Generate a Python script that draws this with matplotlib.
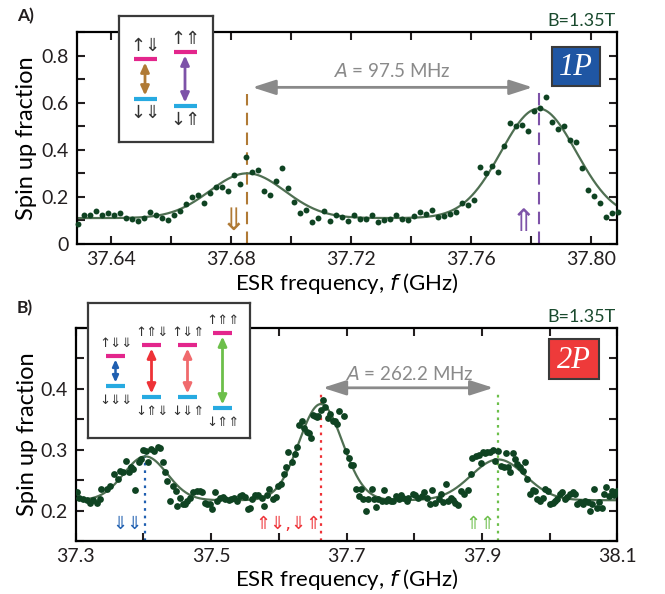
import numpy as np
import matplotlib
matplotlib.use('Agg')
import matplotlib.pyplot as plt
from matplotlib.patches import Rectangle
from matplotlib.ticker import MultipleLocator

plt.rcParams['font.family'] = ['Lato', 'DejaVu Sans']
plt.rcParams['text.color'] = '#231f20'
plt.rcParams['axes.linewidth'] = 1.6
plt.rcParams['xtick.labelsize'] = 14
plt.rcParams['ytick.labelsize'] = 14

# ---------------- data, panel A (1P) ----------------
f_a_start, f_a_step = 37.629, 0.002   # sweep grid (GHz)
spin_a = [0.086, 0.123, 0.123, 0.138, 0.125, 0.130, 0.122, 0.130, 0.110, 0.106,
          0.099, 0.110, 0.135, 0.123, 0.110, 0.100, 0.123, 0.138, 0.171, 0.200,
          0.209, 0.176, 0.216, 0.244, 0.241, 0.224, 0.292, 0.255, 0.370, 0.304,
          0.313, 0.227, 0.209, 0.268, 0.324, 0.238, 0.178, 0.132, 0.146, 0.092,
          0.109, 0.141, 0.096, 0.123, 0.115, 0.096, 0.122, 0.106, 0.106, 0.122,
          0.093, 0.102, 0.106, 0.122, 0.105, 0.103, 0.117, 0.136, 0.129, 0.143,
          0.113, 0.120, 0.126, 0.136, 0.173, 0.165, 0.186, 0.327, 0.301, 0.330,
          0.307, 0.414, 0.512, 0.500, 0.505, 0.479, 0.565, 0.578, 0.625, 0.519,
          0.487, 0.500, 0.443, 0.433, 0.323, 0.228, 0.204, 0.175, 0.116, 0.133,
          0.135]
# gaussian fit
fit_a_base = 0.11
fit_a_centers = [37.6855, 37.7825]
fit_a_amps = [0.19, 0.465]
fit_a_widths = [0.0125, 0.0125]
lines_a = [37.6855, 37.7825]

# ---------------- data, panel B (2P) ----------------
f_b = [37.302, 37.305, 37.311, 37.316, 37.321, 37.326, 37.331, 37.336, 37.338, 37.346,
       37.351, 37.356, 37.363, 37.365, 37.370, 37.374, 37.378, 37.382, 37.385, 37.388,
       37.393, 37.396, 37.400, 37.404, 37.407, 37.411, 37.416, 37.421, 37.425, 37.429,
       37.432, 37.435, 37.439, 37.444, 37.448, 37.450, 37.454, 37.458, 37.461, 37.465,
       37.469, 37.474, 37.479, 37.483, 37.486, 37.491, 37.494, 37.498, 37.502, 37.506,
       37.509, 37.513, 37.517, 37.521, 37.526, 37.530, 37.534, 37.538, 37.542, 37.545,
       37.550, 37.554, 37.558, 37.561, 37.565, 37.570, 37.575, 37.578, 37.582, 37.586,
       37.591, 37.596, 37.599, 37.603, 37.607, 37.611, 37.614,
       37.619, 37.624, 37.627, 37.630, 37.634, 37.637, 37.641, 37.645, 37.647, 37.650,
       37.654, 37.656, 37.658, 37.663, 37.666, 37.668, 37.672, 37.676, 37.680, 37.683,
       37.686, 37.689, 37.696, 37.699, 37.703, 37.706, 37.710, 37.714, 37.718, 37.721,
       37.725, 37.729, 37.732, 37.737, 37.740, 37.744, 37.747, 37.752, 37.755, 37.758,
       37.762, 37.765, 37.769, 37.773, 37.777, 37.780, 37.784, 37.789, 37.791, 37.798,
       37.801, 37.806, 37.811, 37.815, 37.819, 37.823, 37.827, 37.831, 37.836,
       37.839, 37.843, 37.847, 37.850, 37.854, 37.857, 37.860, 37.865, 37.869, 37.873,
       37.879, 37.884, 37.886, 37.891, 37.895, 37.898, 37.901, 37.905, 37.908, 37.912,
       37.916, 37.919, 37.924, 37.928, 37.932, 37.936, 37.939, 37.942, 37.946, 37.949,
       37.952, 37.956, 37.960, 37.964, 37.967, 37.971, 37.975, 37.979, 37.982, 37.986,
       37.990, 37.993, 37.997, 38.001, 38.005, 38.008, 38.011, 38.015, 38.019, 38.023,
       38.026, 38.030, 38.034, 38.038, 38.041, 38.045, 38.049, 38.052, 38.056, 38.059,
       38.062, 38.066, 38.070, 38.073, 38.077, 38.080, 38.084, 38.088, 38.092, 38.095,
       38.099]
spin_b = [0.230, 0.220, 0.219, 0.217, 0.212, 0.217, 0.212, 0.219, 0.235, 0.235,
          0.241, 0.260, 0.252, 0.265, 0.263, 0.282, 0.263, 0.271, 0.268, 0.234,
          0.279, 0.285, 0.300, 0.298, 0.279, 0.301, 0.298, 0.304, 0.302, 0.279,
          0.263, 0.249, 0.216, 0.241, 0.232, 0.207, 0.220, 0.210, 0.210, 0.216,
          0.220, 0.230, 0.232, 0.232, 0.230, 0.213, 0.210, 0.210, 0.202, 0.230,
          0.216, 0.221, 0.223, 0.219, 0.217, 0.219, 0.221, 0.216, 0.224, 0.225,
          0.223, 0.202, 0.205, 0.219, 0.225, 0.225, 0.221, 0.207, 0.225, 0.236,
          0.219, 0.223, 0.241, 0.243, 0.260, 0.271, 0.296,
          0.280, 0.293, 0.304, 0.340, 0.348, 0.335, 0.329, 0.327, 0.320, 0.357,
          0.355, 0.353, 0.356, 0.366, 0.381, 0.370, 0.352, 0.359, 0.348, 0.348,
          0.342, 0.364, 0.356, 0.298, 0.287, 0.275, 0.275, 0.236, 0.224, 0.235,
          0.219, 0.199, 0.219, 0.236, 0.219, 0.206, 0.219, 0.216, 0.234, 0.216,
          0.219, 0.216, 0.216, 0.224, 0.219, 0.225, 0.220, 0.216, 0.221, 0.228,
          0.225, 0.220, 0.224, 0.230, 0.221, 0.210, 0.234, 0.213, 0.219,
          0.228, 0.214, 0.243, 0.216, 0.220, 0.217, 0.213, 0.209, 0.232, 0.228,
          0.234, 0.260, 0.287, 0.289, 0.291, 0.278, 0.296, 0.294, 0.296, 0.296,
          0.300, 0.282, 0.298, 0.274, 0.271, 0.294, 0.272, 0.264, 0.294, 0.285,
          0.276, 0.271, 0.265, 0.279, 0.252, 0.227, 0.234, 0.232, 0.219, 0.216,
          0.221, 0.235, 0.232, 0.210, 0.213, 0.216, 0.219, 0.227, 0.231, 0.219,
          0.223, 0.227, 0.231, 0.227, 0.210, 0.214, 0.210, 0.216, 0.214, 0.199,
          0.210, 0.236, 0.205, 0.214, 0.205, 0.227, 0.238, 0.224, 0.232, 0.225,
          0.232]
fit_b_base = 0.217
fit_b_centers = [37.403, 37.662, 37.924]
fit_b_amps = [0.072, 0.158, 0.067]
fit_b_widths = [0.032, 0.032, 0.040]
lines_b = [37.4025, 37.6618, 37.924]

xticks_a = [37.64, 37.68, 37.72, 37.76, 37.80]
yticks_a = [0, 0.2, 0.4, 0.6, 0.8]
xticks_b = [37.3, 37.5, 37.7, 37.9, 38.1]
yticks_b = [0.2, 0.3, 0.4]

# ---------------- styles ----------------
dot_c = '#0f4322'
fit_c = '#4f6f52'
gray = '#8a8a8a'
brown = '#b07a35'
purple = '#7d52a8'
magenta = '#e3268c'
cyan = '#27aae1'
blue_c = '#1f5fb0'
red_c = '#ee3237'
red_l = '#f06a6d'
green_c = '#6cbf4a'
dark_green = '#1a4a2e'
arrow_font = 'DejaVu Sans'

W, H = 665, 594


def px_box(x0, y0, x1, y1):
    return [x0/W, 1-y1/H, (x1-x0)/W, (y1-y0)/H]


def px_pt(x, y):
    return x/W, 1-y/H


def fit_curve(f, base, centers, amps, widths):
    y = np.full_like(f, base)
    for c, a, w in zip(centers, amps, widths):
        y += a*np.exp(-(f-c)**2/(2*w**2))
    return y


def style_axes(ax, x0, y0, x1, y1, xlab_y):
    ax.tick_params(which='both', direction='in', length=6, width=1.5,
                   top=True, right=True, pad=6, colors='#231f20')
    ax.tick_params(axis='x', pad=5)
    ax.set_xlabel(r'ESR frequency, $\it{f}$ (GHz)', fontsize=16, va='center')
    ax.set_ylabel('Spin up fraction', fontsize=17, va='center')
    ax.xaxis.set_label_coords(0.5, (y1-xlab_y)/(y1-y0))
    ax.yaxis.set_label_coords((27-x0)/(x1-x0), 0.5)


def dbl_arrow(ax, x, y0, y1, color, lw=2.0, ms=5):
    ax.annotate('', xy=(x, y0), xytext=(x, y1),
                arrowprops=dict(arrowstyle='<|-|>,head_length=1.1,head_width=0.5',
                                color=color, lw=lw, mutation_scale=ms,
                                shrinkA=0, shrinkB=0))


def spin_text(ax, x, y, s, fs, color):
    ax.text(x, y, s, fontsize=fs, family=arrow_font, color=color,
            ha='center', va='center')


fig = plt.figure(figsize=(W/100, H/100), dpi=100)

# ================= panel A =================
axA = fig.add_axes(px_box(77.3, 32, 617.3, 244))
f_a = np.round(f_a_start + f_a_step*np.arange(len(spin_a)), 3)
xlim_a = (37.6289, 37.8087)
ff = np.linspace(*xlim_a, 600)
axA.plot(ff, fit_curve(ff, fit_a_base, fit_a_centers, fit_a_amps, fit_a_widths),
         color=fit_c, lw=1.6, zorder=2)
axA.scatter(f_a, spin_a, s=18, color=dot_c, lw=0, zorder=3, clip_on=False)
axA.plot([lines_a[0]]*2, [0, 0.637], ls=(0, (6, 3.5)), color=brown, lw=1.5, zorder=1)
axA.plot([lines_a[1]]*2, [0, 0.649], ls=(0, (6, 3.5)), color=purple, lw=1.5, zorder=1)
axA.annotate('', xy=(37.6872, 0.665), xytext=(37.7805, 0.665),
             arrowprops=dict(arrowstyle='<|-|>,head_length=1.4,head_width=0.45',
                             color=gray, lw=2, mutation_scale=10, shrinkA=0, shrinkB=0))
axA.text(37.7338, 0.735, r'$\it{A}$ = 97.5 MHz', color=gray, fontsize=13.5,
         ha='center', va='center')
spin_text(axA, 37.6808, 0.095, '⇓', 22, brown)
spin_text(axA, 37.7774, 0.09, '⇑', 22, purple)
axA.set_xlim(xlim_a)
axA.set_ylim(0, 0.9)
axA.set_xticks(xticks_a)
axA.set_xticklabels([f'{v:.2f}' for v in xticks_a])
axA.set_yticks(yticks_a)
axA.set_yticklabels(['0', '0.2', '0.4', '0.6', '0.8'])
axA.xaxis.set_minor_locator(MultipleLocator(0.02))
axA.yaxis.set_minor_locator(MultipleLocator(0.1))
style_axes(axA, 77.3, 32, 617.3, 244, 284)

# ================= panel B =================
axB = fig.add_axes(px_box(75.7, 328, 617.3, 541))
xlim_b = (37.3, 38.1)
ff = np.linspace(*xlim_b, 800)
axB.plot(ff, fit_curve(ff, fit_b_base, fit_b_centers, fit_b_amps, fit_b_widths),
         color=fit_c, lw=1.6, zorder=2)
axB.scatter(f_b, spin_b, s=24, color=dot_c, lw=0, zorder=3)
axB.plot([lines_b[0]]*2, [0.15, 0.305], ls=(0, (1.2, 2.2)), color=blue_c, lw=1.6, zorder=1)
axB.plot([lines_b[1]]*2, [0.15, 0.395], ls=(0, (1.2, 2.2)), color=red_c, lw=1.6, zorder=1)
axB.plot([lines_b[2]]*2, [0.15, 0.395], ls=(0, (1.2, 2.2)), color=green_c, lw=1.6, zorder=1)
axB.annotate('', xy=(37.665, 0.4017), xytext=(37.917, 0.4017),
             arrowprops=dict(arrowstyle='<|-|>,head_length=1.4,head_width=0.45',
                             color=gray, lw=2, mutation_scale=10, shrinkA=0, shrinkB=0))
axB.text(37.7924, 0.4248, r'$\it{A}$ = 262.2 MHz', color=gray, fontsize=13.5,
         ha='center', va='center')
spin_text(axB, 37.376, 0.1777, '⇓⇓', 13, blue_c)
spin_text(axB, 37.6137, 0.1777, '⇑⇓,⇓⇑', 13, red_c)
spin_text(axB, 37.8985, 0.1777, '⇑⇑', 13, green_c)
axB.set_xlim(xlim_b)
axB.set_ylim(0.15, 0.5)
axB.set_xticks(xticks_b)
axB.set_xticklabels([f'{v:.1f}' for v in xticks_b])
axB.set_yticks(yticks_b)
axB.set_yticklabels([f'{v:.1f}' for v in yticks_b])
axB.xaxis.set_minor_locator(MultipleLocator(0.1))
axB.yaxis.set_minor_locator(MultipleLocator(0.05))
style_axes(axB, 75.7, 328, 617.3, 541, 580)

# ---------------- labels over the figure ----------------
fig.text(*px_pt(17, 16), 'A)', fontsize=12.5, fontweight='bold', va='center')
fig.text(*px_pt(17, 308), 'B)', fontsize=12.5, fontweight='bold', va='center')
fig.text(*px_pt(616, 20.5), 'B=1.35T', fontsize=13, color=dark_green,
         ha='right', va='center')
fig.text(*px_pt(616, 316.5), 'B=1.35T', fontsize=13, color=dark_green,
         ha='right', va='center')

for box, label, fc in [((552, 47, 600, 86), '1P', '#1f56a3'),
                       ((549, 339, 599, 379), '2P', '#ee3a3a')]:
    x0, y0, x1, y1 = box
    fig.patches.append(Rectangle(px_pt(x0, y1), (x1-x0)/W, (y1-y0)/H,
                                 transform=fig.transFigure, fc=fc, ec='#3a3a3a',
                                 lw=1.5, zorder=5))
    fig.text(*px_pt((x0+x1)/2, (y0+y1)/2 + 1), label, color='white', fontsize=22,
             family='Liberation Serif', style='italic', ha='center', va='center',
             zorder=6)


# ---------------- level diagram insets ----------------
def inset(box):
    x0, y0, x1, y1 = box
    ax = fig.add_axes(px_box(x0, y0, x1, y1))
    ax.set_xlim(x0, x1)
    ax.set_ylim(y1, y0)
    ax.set_xticks([])
    ax.set_yticks([])
    for s in ax.spines.values():
        s.set_linewidth(1.6)
        s.set_color('#3a3a3a')
    return ax


def level(ax, x, w, y_up, y_dn, top_txt, bot_txt, color, fs, ms=5):
    ax.plot([x-w/2, x+w/2], [y_up, y_up], color=magenta, lw=3, solid_capstyle='butt')
    ax.plot([x-w/2, x+w/2], [y_dn, y_dn], color=cyan, lw=3, solid_capstyle='butt')
    dbl_arrow(ax, x, y_up+3.5, y_dn-3.5, color, lw=1.8 if ms < 5 else 2.0, ms=ms)
    spin_text(ax, x, y_up-13, top_txt, fs, '#333333')
    spin_text(ax, x, y_dn+14, bot_txt, fs, '#333333')


insA = inset((119, 16, 213, 142))
level(insA, 145, 23, 59, 99, '↑⇓', '↓⇓', brown, 13)
level(insA, 185, 23, 52, 106, '↑⇑', '↓⇑', purple, 13)

insB = inset((88, 303, 250, 438))
level(insB, 115.5, 19, 356, 386, '↑⇓⇓', '↓⇓⇓', blue_c, 9.5, ms=3.5)
level(insB, 151.5, 19, 345, 397, '↑⇑⇓', '↓⇑⇓', red_c, 9.5)
level(insB, 187.5, 19, 345, 397, '↑⇓⇑', '↓⇓⇑', red_l, 9.5)
level(insB, 222.5, 19, 333, 408, '↑⇑⇑', '↓⇑⇑', green_c, 9.5)

fig.savefig('out.png', dpi=100)
